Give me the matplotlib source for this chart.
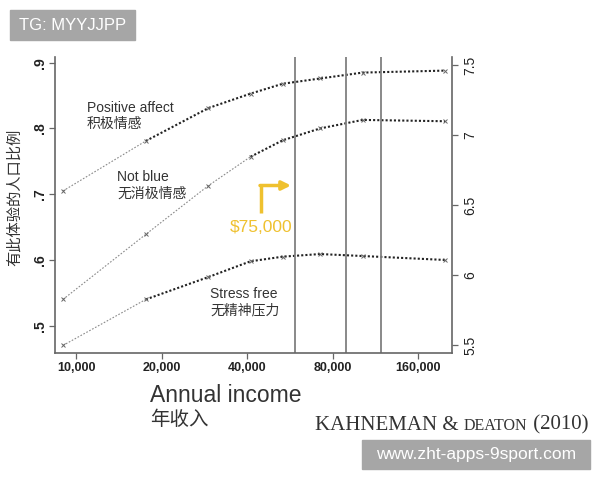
import matplotlib
matplotlib.use("Agg")
import matplotlib.pyplot as plt
from matplotlib.patches import Rectangle
from matplotlib.lines import Line2D

plt.rcParams['font.family'] = ['Liberation Sans', 'Noto Sans CJK SC']

# datos
ingreso = [9000, 17600, 29200, 41100, 53300, 72100, 101900, 198500]
positivo = [0.705, 0.781, 0.831, 0.853, 0.868, 0.876, 0.885, 0.888]
no_triste = [0.540, 0.639, 0.713, 0.757, 0.782, 0.800, 0.813, 0.811]
sin_estres = [0.470, 0.540, 0.574, 0.598, 0.605, 0.609, 0.606, 0.600]
tramo_claro = [1, 3, 1]  # hasta que punto la linea va en gris claro

lineas_v = [59000, 89000, 118000]
x_ticks = [10000, 20000, 40000, 80000, 160000]
x_labels = ['10,000', '20,000', '40,000', '80,000', '160,000']
y_ticks = [0.5, 0.6, 0.7, 0.8, 0.9]
y_labels = ['.5', '.6', '.7', '.8', '.9']
y2_ticks = [5.5, 6, 6.5, 7, 7.5]
y2_labels = ['5.5', '6', '6.5', '7', '7.5']

W, H = 600, 480
fig = plt.figure(figsize=(6, 4.8), dpi=100)
ax = fig.add_axes([55 / W, 1 - 353 / H, (452 - 55) / W, (353 - 57) / H])

def px(x, y):
    return x / W, 1 - y / H

# series
for vals, k in zip([positivo, no_triste, sin_estres], tramo_claro):
    ax.plot(ingreso[:k + 1], vals[:k + 1], color='#8a8a8a', lw=0.8,
            dashes=(1.5, 1.5))
    ax.plot(ingreso[k:], vals[k:], color='#222222', lw=1.5, dashes=(1, 1))
    ax.plot(ingreso, vals, 'x', color='#666666', ms=2.5, mew=0.7)

for v in lineas_v:
    ax.axvline(v, color='#808080', lw=1.3)

ax.set_xscale('log')
ax.set_xlim(8436, 210000)
ax.set_ylim(0.4585, 0.9087)
ax.set_xticks(x_ticks)
ax.set_xticklabels(x_labels)
ax.minorticks_off()
ax.set_yticks(y_ticks)
ax.set_yticklabels(y_labels, rotation=90, va='center')
for s in ['top', 'right']:
    ax.spines[s].set_visible(False)
for s in ['left', 'bottom']:
    ax.spines[s].set_color('#666666')
    ax.spines[s].set_linewidth(1.2)
ax.tick_params(axis='both', length=4, width=0.9, color='#666666',
               labelsize=9, labelcolor='#222222')
ax.tick_params(axis='x', pad=2.5)
ax.tick_params(axis='y', pad=2, labelsize=10)
for t in ax.get_xticklabels() + ax.get_yticklabels():
    t.set_fontweight('bold')

ax2 = ax.twinx()
ax2.set_ylim(5.443, 7.557)
ax2.set_yticks(y2_ticks)
ax2.set_yticklabels(y2_labels, rotation=90, va='center')
for s in ['top', 'left', 'bottom']:
    ax2.spines[s].set_visible(False)
ax2.spines['right'].set_color('#666666')
ax2.spines['right'].set_linewidth(1.2)
ax2.tick_params(axis='y', length=4, width=0.9, color='#666666',
                labelsize=10, labelcolor='#222222', pad=4)

# textos
txt = '#333333'
fig.text(*px(87, 108), 'Positive affect', fontsize=10, color=txt, va='center')
fig.text(*px(87, 124), '积极情感', fontsize=10, color=txt, va='center')
fig.text(*px(117, 177), 'Not blue', fontsize=10, color=txt, va='center')
fig.text(*px(117, 194), '无消极情感', fontsize=10, color=txt, va='center')
fig.text(*px(210, 294), 'Stress free', fontsize=10, color=txt, va='center')
fig.text(*px(210, 310), '无精神压力', fontsize=10, color=txt, va='center')

fig.text(*px(15, 197), '有此体验的人口比例', fontsize=11, color=txt,
         rotation=90, ha='center', va='center')
fig.text(*px(150, 395), 'Annual income', fontsize=16.5, color=txt, va='center')
fig.text(*px(150, 420), '年收入', fontsize=14, color=txt, va='center')

# flecha amarilla
oro = '#EFC12F'
fig.add_artist(Line2D([261 / W, 261 / W], [1 - 213 / H, 1 - 185.5 / H],
                      color=oro, lw=2.5, solid_capstyle='butt'))
ax.annotate('', xy=(291, H - 185.5), xytext=(260, H - 185.5),
            xycoords='figure pixels', textcoords='figure pixels',
            arrowprops=dict(arrowstyle='-|>', color=oro, lw=2.5,
                            mutation_scale=13, shrinkA=0, shrinkB=0))
fig.text(*px(230, 227), '$75,000', fontsize=12.5, color=oro, va='center')

# cita con versalitas
fig.canvas.draw()
r = fig.canvas.get_renderer()
x0 = 315
base = 1 - 429.5 / H
for trozo, tam in [('KAHNEMAN & ', 15), ('DEATON', 11.5), (' (2010)', 15)]:
    t = fig.text(x0 / W, base, trozo, fontsize=tam, color=txt,
                 family='Liberation Serif', va='baseline')
    x0 += t.get_window_extent(r).width

# marcas de agua
gris = '#a6a6a6'
fig.add_artist(Rectangle(px(10, 40), 125 / W, 30 / H, color=gris,
                         transform=fig.transFigure))
fig.text(*px(72.5, 25), 'TG: MYYJJPP', fontsize=12, color='white',
         ha='center', va='center')
fig.add_artist(Rectangle(px(362, 469), 228 / W, 29 / H, color=gris,
                         transform=fig.transFigure))
fig.text(*px(476, 455), 'www.zht-apps-9sport.com', fontsize=12.5,
         color='white', ha='center', va='center')

fig.savefig('out.png', dpi=100)
